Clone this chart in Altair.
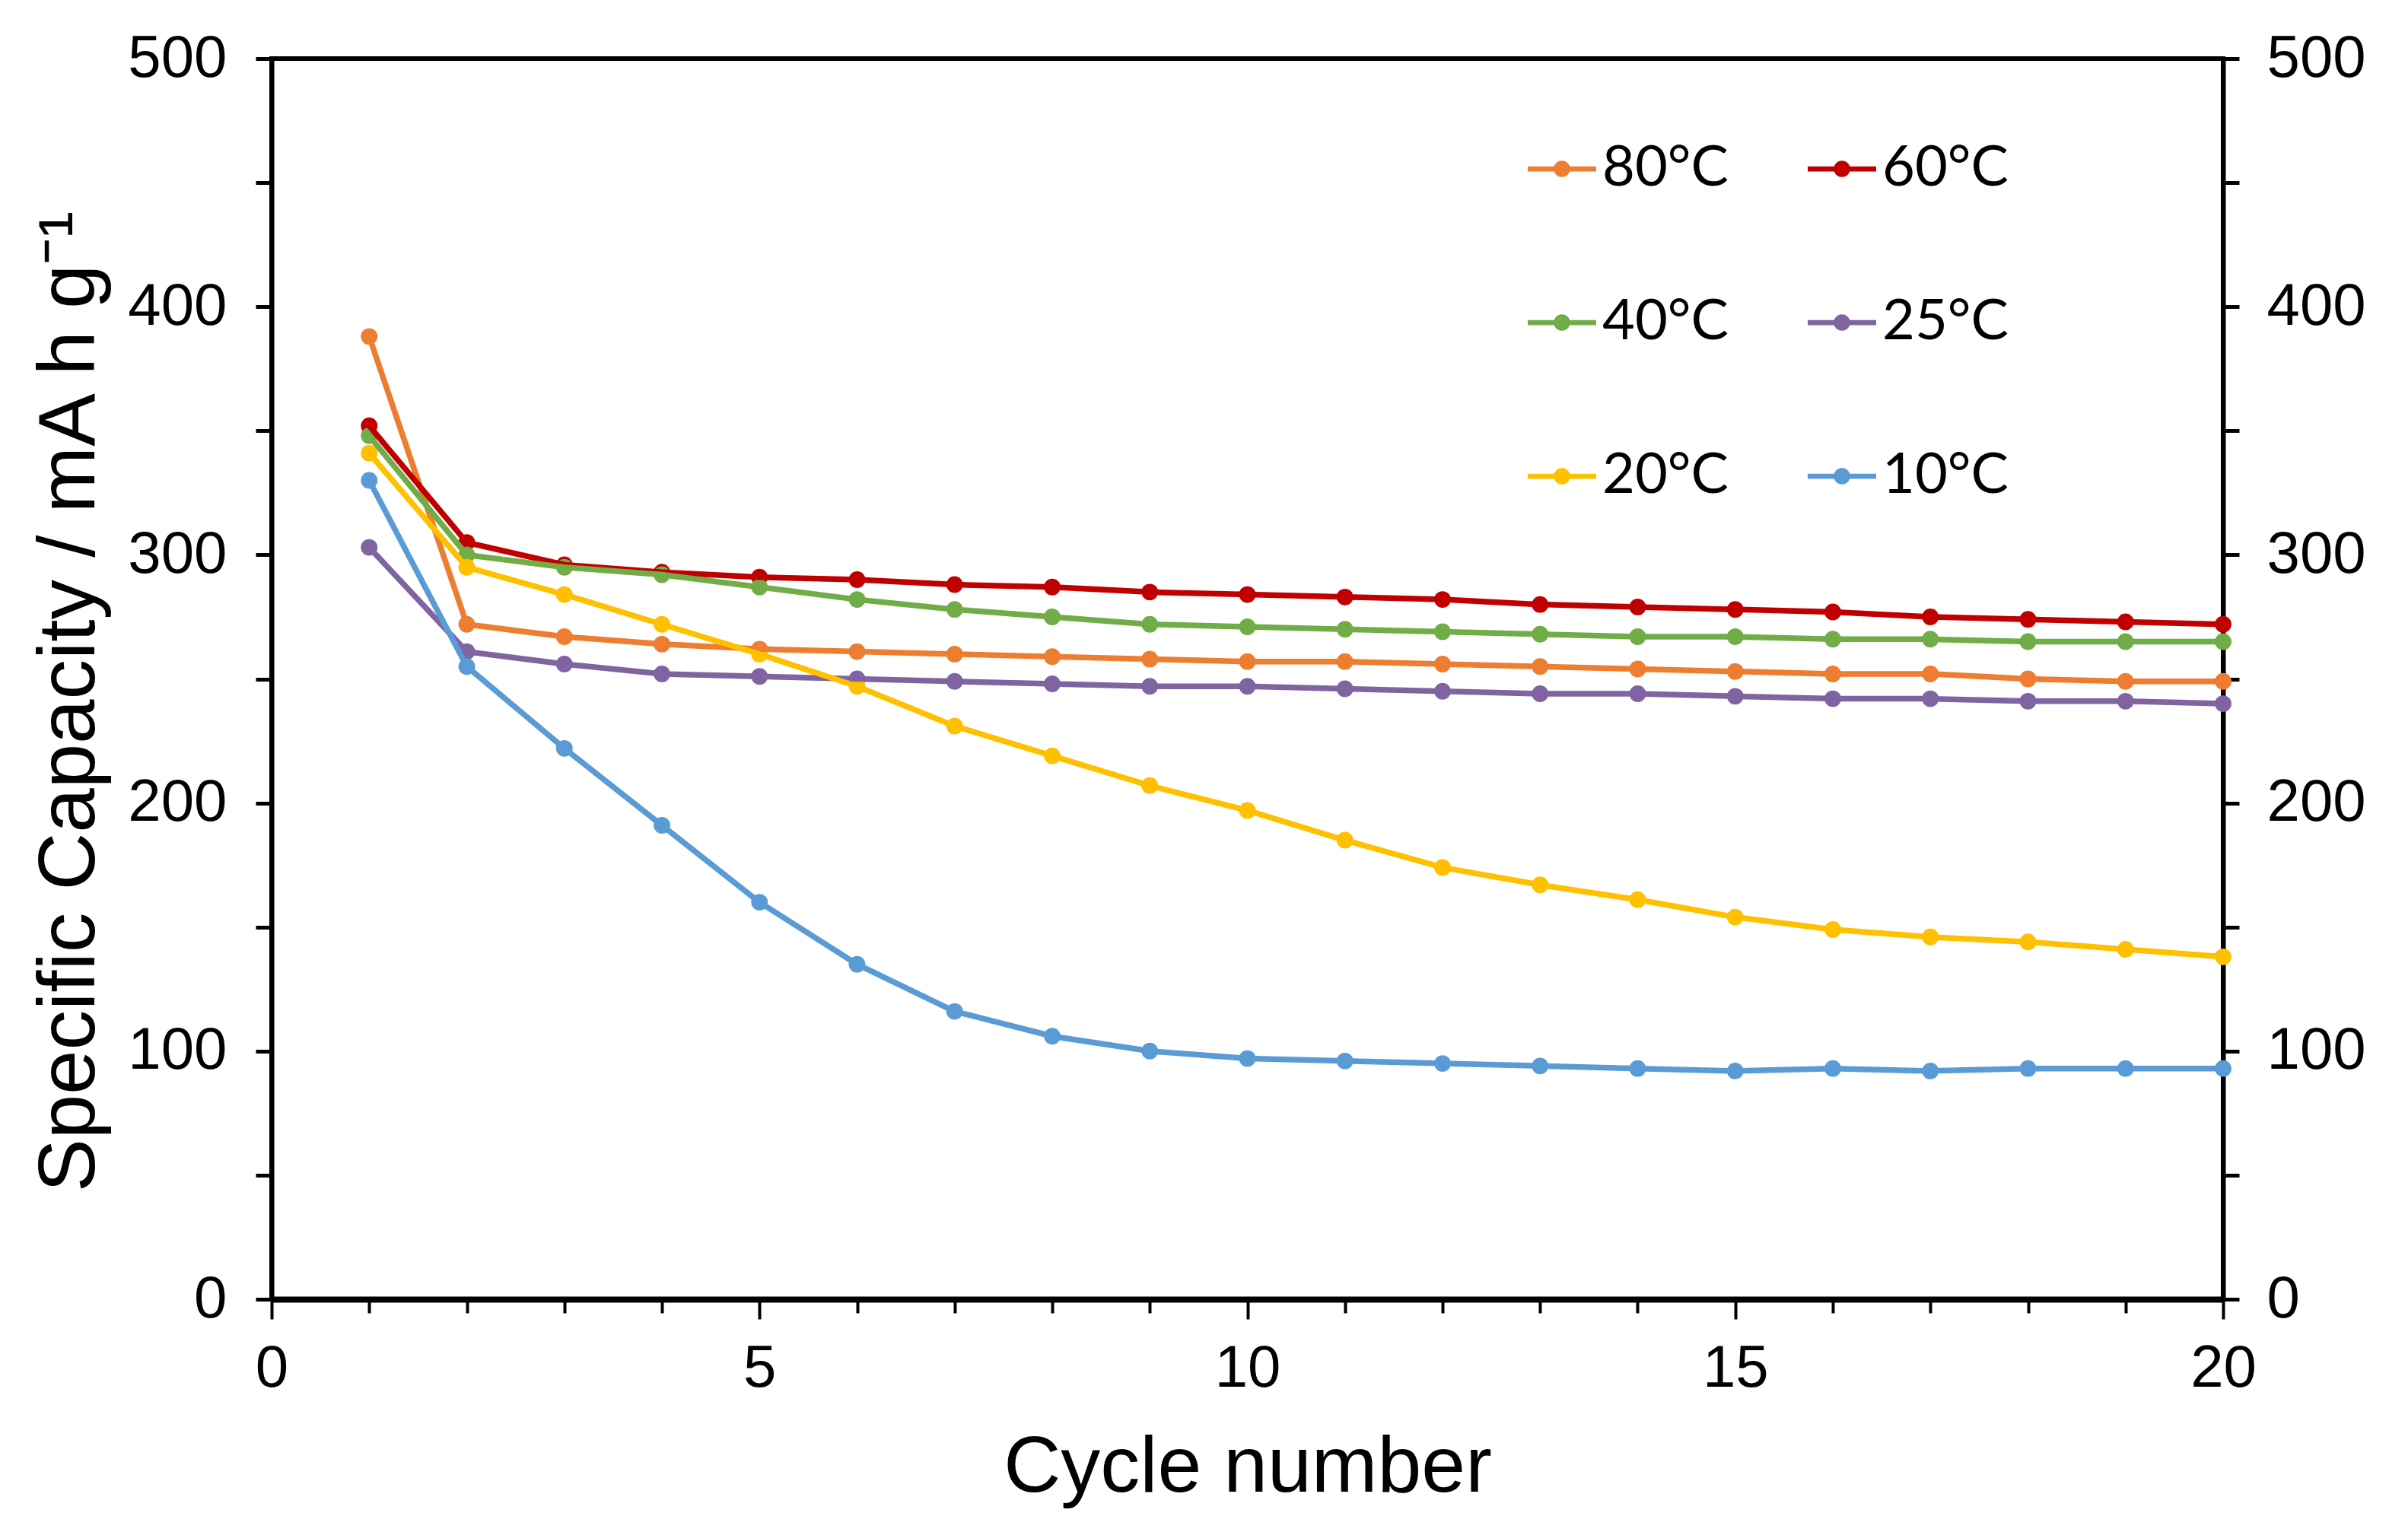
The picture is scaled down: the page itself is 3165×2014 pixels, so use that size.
import altair as alt
import pandas as pd

cycles = list(range(1, 21))

temps = ["80°C", "60°C", "40°C", "25°C", "20°C", "10°C"]
colors = ["#ED7D31", "#C00000", "#70AD47", "#8064A2", "#FFC000", "#5B9BD5"]

cap_80 = [388, 272, 267, 264, 262, 261, 260, 259, 258, 257, 257, 256, 255, 254, 253, 252, 252, 250, 249, 249]
cap_60 = [352, 305, 296, 293, 291, 290, 288, 287, 285, 284, 283, 282, 280, 279, 278, 277, 275, 274, 273, 272]
cap_40 = [348, 300, 295, 292, 287, 282, 278, 275, 272, 271, 270, 269, 268, 267, 267, 266, 266, 265, 265, 265]
cap_25 = [303, 261, 256, 252, 251, 250, 249, 248, 247, 247, 246, 245, 244, 244, 243, 242, 242, 241, 241, 240]
cap_20 = [341, 295, 284, 272, 260, 247, 231, 219, 207, 197, 185, 174, 167, 161, 154, 149, 146, 144, 141, 138]
cap_10 = [330, 255, 222, 191, 160, 135, 116, 106, 100, 97, 96, 95, 94, 93, 92, 93, 92, 93, 93, 93]

series = [cap_80, cap_60, cap_40, cap_25, cap_20, cap_10]
rows = []
for t, vals in zip(temps, series):
    for c, v in zip(cycles, vals):
        rows.append({"cycle": c, "capacity": v, "temp": t})
df = pd.DataFrame(rows)

font = "Liberation Sans"

# line + dot legend symbol (thin bar with a filled circle)
legend_symbol = ("M-1,-0.075H1V0.075H-1Z "
                 "M-0.24,0A0.24,0.24 0 1,1 0.24,0A0.24,0.24 0 1,1 -0.24,0Z")

x_axis = alt.Axis(
    title="Cycle number", values=list(range(0, 21)),
    labelExpr="datum.value % 5 === 0 ? datum.label : ''",
    tickSize=alt.condition("datum.value % 5 === 0", alt.value(26), alt.value(18)),
    tickWidth=4, tickColor="black", domainColor="black", domainWidth=8,
    labelFont=font, labelFontSize=78, labelColor="black", labelPadding=26,
    labelFlush=False,
    titleFont=font, titleFontSize=104, titleFontWeight="normal", titleColor="black",
    titlePadding=40, grid=False,
)

y_values = list(range(0, 501, 50))
y_left = alt.Axis(
    title="Specific Capacity / mA h g⁻¹", values=y_values, orient="left",
    labelExpr="datum.value % 100 === 0 ? datum.label : ''",
    tickSize=21, tickWidth=5, tickColor="black", domainColor="black", domainWidth=6,
    labelFont=font, labelFontSize=78, labelColor="black", labelPadding=38,
    labelFlush=False,
    titleFont=font, titleFontSize=105, titleFontWeight="normal", titleColor="black",
    titlePadding=22, titleY=845, grid=False,
)
y_right = alt.Axis(
    title=None, values=y_values, orient="right",
    labelExpr="datum.value % 100 === 0 ? datum.label : ''",
    tickSize=21, tickWidth=5, tickColor="black", domainColor="black", domainWidth=6,
    labelFont=font, labelFontSize=78, labelColor="black", labelPadding=36,
    labelFlush=False, grid=False,
)

x_enc = alt.X("cycle:Q", scale=alt.Scale(domain=[0, 20], nice=False), axis=x_axis)
y_scale = alt.Scale(domain=[0, 500], nice=False)
color_enc = alt.Color(
    "temp:N", sort=temps, scale=alt.Scale(domain=temps, range=colors),
    legend=alt.Legend(
        title=None, orient="none", legendX=1651, legendY=100, columns=2,
        direction="horizontal",
        symbolType=legend_symbol, symbolSize=8100, symbolOpacity=1,
        symbolStrokeWidth=0, labelFont="Lato", labelFontSize=74, labelLimit=500,
        labelColor="black", labelOffset=8, rowPadding=120, columnPadding=104,
    ),
)

points = alt.Chart(df).mark_circle(size=480, opacity=1).encode(
    x=x_enc,
    y=alt.Y("capacity:Q", scale=y_scale, axis=y_right),
    color=color_enc,
)

lines = alt.Chart(df).mark_line(strokeWidth=7.5).encode(
    x=x_enc,
    y=alt.Y("capacity:Q", scale=y_scale, axis=y_left),
    color=color_enc,
    detail="temp:N",
)

chart = alt.layer(points, lines).resolve_axis(y="independent").properties(
    width=2565, height=1631,
    autosize=alt.AutoSizeParams(type="none"),
    padding={"left": 349, "top": 69, "right": 235, "bottom": 298},
).configure(background="white").configure_view(stroke="black", strokeWidth=6)

chart.save("out.html", embed_options={"renderer": "svg", "actions": False})
